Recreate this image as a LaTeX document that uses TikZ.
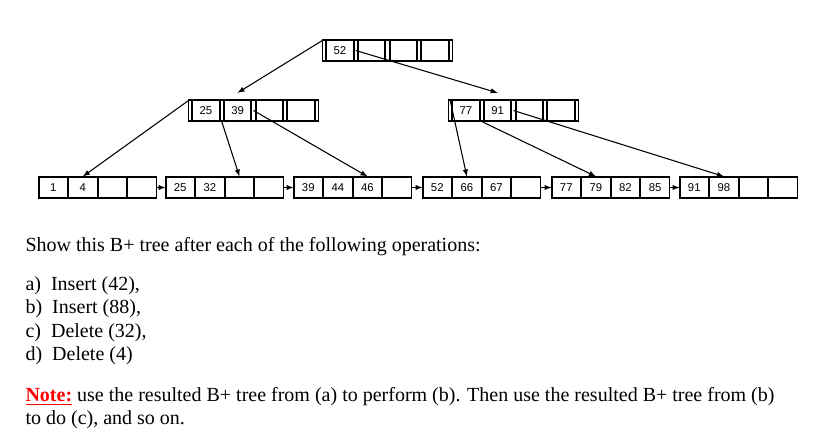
\documentclass[tikz,border=0pt]{standalone}
\usepackage{fontspec}
\setmainfont{Liberation Serif}
\newfontfamily\cellfont{Liberation Sans}
\usetikzlibrary{arrows, positioning}

\tikzset{
  cell/.style={draw,rectangle,minimum width=21.4pt,minimum height=15.75pt,inner sep=0pt,font=\cellfont\fontsize{8.5}{10}\selectfont},
  key/.style={cell,minimum width=19.8pt},
  strip/.style={draw,rectangle,minimum width=2.4pt,minimum height=15.75pt,inner sep=0pt},
  txt/.style={anchor=west,inner sep=0pt,font=\fontsize{15}{18}\selectfont},
}

% leaf: name, left x, four keys
\newcommand{\leafnode}[6]{
  \node[cell] (#1-1) at (#2+14.25,187.5) {#3};
  \node[cell,right=0pt of #1-1] (#1-2) {#4};
  \node[cell,right=0pt of #1-2] (#1-3) {#5};
  \node[cell,right=0pt of #1-3] (#1-4) {#6};
}
% inner node: name, left x, y, four keys
\newcommand{\innernode}[7]{
  \node[strip] (#1-p1) at (#2+2,#3) {};
  \node[key,right=0pt of #1-p1] (#1-1) {#4};
  \node[strip,right=0pt of #1-1] (#1-p2) {};
  \node[key,right=0pt of #1-p2] (#1-2) {#5};
  \node[strip,right=0pt of #1-2] (#1-p3) {};
  \node[key,right=0pt of #1-p3] (#1-3) {#6};
  \node[strip,right=0pt of #1-3] (#1-p4) {};
  \node[key,right=0pt of #1-p4] (#1-4) {#7};
  \node[strip,right=0pt of #1-4] (#1-p5) {};
}

\begin{document}
\begin{tikzpicture}[x=0.75pt,y=-0.75pt,thick]
  \useasboundingbox (0,0) rectangle (815,442);

  % tree
  \innernode{root}{322}{50.5}{52}{}{}{}
  \innernode{i1}{188}{110.5}{25}{39}{}{}
  \innernode{i2}{448}{110.5}{77}{91}{}{}

  \leafnode{l1}{39}{1}{4}{}{}
  \leafnode{l2}{166}{25}{32}{}{}
  \leafnode{l3}{294}{39}{44}{46}{}
  \leafnode{l4}{423}{52}{66}{67}{}
  \leafnode{l5}{552}{77}{79}{82}{85}
  \leafnode{l6}{680}{91}{98}{}{}

  \draw[-latex] (root-p1.north) -- ([yshift=5pt]i1-2.north);
  \draw[-latex] (root-p2.center) -- ([yshift=5pt]i2-2.north);

  \draw[-latex] (i1-p1.north) -- (l1-2.north);
  \draw[-latex] (i1-p2.south) -- (l2-3.north);
  \draw[-latex] (i1-p3.center) -- (l3-3.north);
  \draw[-latex] (i2-p1.north) -- (l4-2.north);
  \draw[-latex] (i2-p2.south) -- (l5-2.north);
  \draw[-latex] (i2-p3.center) -- (l6-2.north);

  \foreach \a/\b in {l1/l2, l2/l3, l3/l4, l4/l5, l5/l6}
    \draw[-latex] (\a-4.east) -- (\b-1.west);

  % question text
  \node[txt] (q) at (25,247) {Show this B+ tree after each of the following operations:};
  \node[txt] (qa) at (25,286) {a)\enspace Insert (42),};
  \node[txt] (qb) at (25,309) {b)\enspace Insert (88),};
  \node[txt] (qc) at (25,333) {c)\enspace Delete (32),};
  \node[txt] (qd) at (25,356) {d)\enspace Delete (4)};
  \node[txt] (n1) at (25,397) {\textcolor{red}{\textbf{\underline{Note:}}} use the resulted B+ tree from (a) to perform (b). Then use the resulted B+ tree from (b)};
  \node[txt] (n2) at (25,420) {to do (c), and so on.};
\end{tikzpicture}
\end{document}
